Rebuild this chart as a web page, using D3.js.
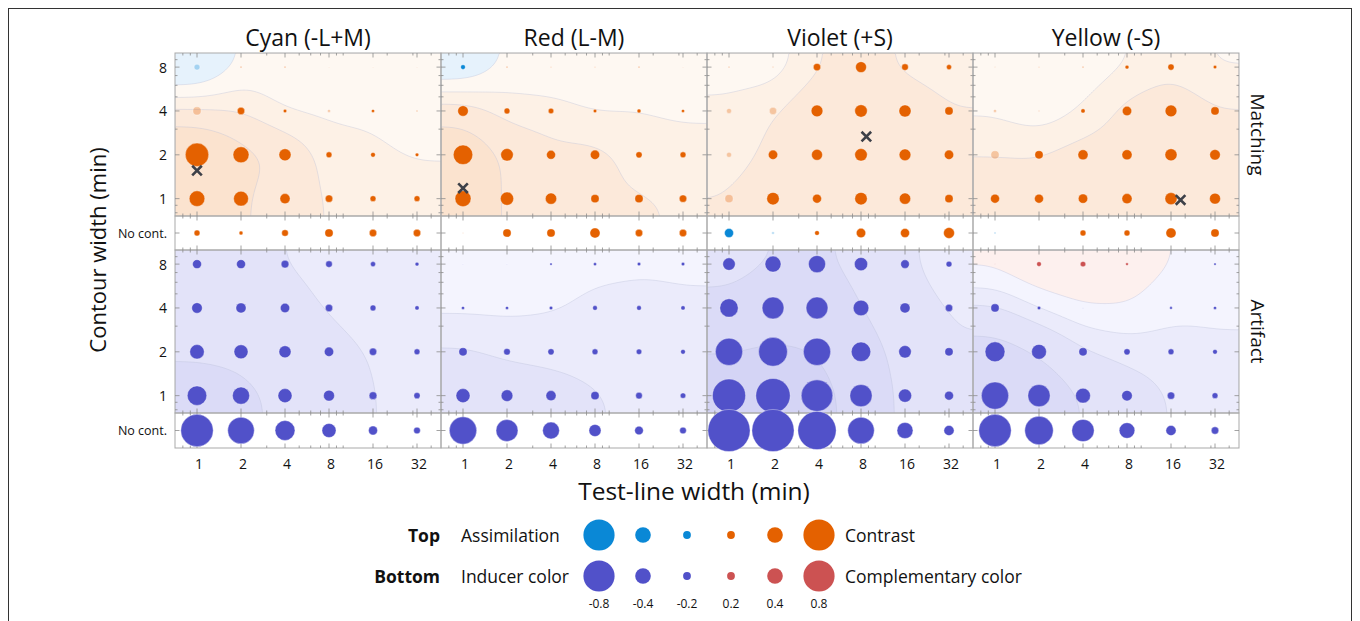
<!DOCTYPE html>
<html>
<head>
<meta charset="utf-8">
<script src="https://cdn.jsdelivr.net/npm/d3@7"></script>
<style>
  body { margin: 0; background: #fff; }
  svg { display: block; }
  text { font-family: "Open Sans", "Noto Sans", sans-serif; fill: #111; }
</style>
</head>
<body>
<svg id="chart" width="1360" height="621"></svg>
<script>
// ---- categories and tick labels ----
const inducers = ["Cyan (-L+M)", "Red (L-M)", "Violet (+S)", "Yellow (-S)"];
const testWidths = [1, 2, 4, 8, 16, 32];
const contourWidths = [8, 4, 2, 1];
const testTickLabels = ["1", "2", "4", "8", "16", "32"];
const contourTickLabels = ["8", "4", "2", "1"];
const noContourLabel = "No cont.";
const measures = ["Matching", "Artifact"];

// ---- Matching (top): rows = contour width 8,4,2,1; columns = test width 1..32 ----
const matchingCyan = [
  [-0.15, 0.03, 0.03, 0.01, 0.01, 0.01],
  [0.21, 0.19, 0.09, 0.08, 0.08, 0.05],
  [0.60, 0.41, 0.31, 0.15, 0.12, 0.09],
  [0.40, 0.38, 0.26, 0.19, 0.15, 0.15]
];
const matchingCyanNoCont = [0.15, 0.10, 0.17, 0.21, 0.19, 0.19];
const matchingRed = [
  [-0.12, 0.03, 0.02, 0.02, 0.03, 0.01],
  [0.27, 0.15, 0.14, 0.09, 0.10, 0.08],
  [0.50, 0.32, 0.23, 0.24, 0.16, 0.15],
  [0.41, 0.34, 0.29, 0.21, 0.21, 0.19]
];
const matchingRedNoCont = [0.03, 0.21, 0.21, 0.26, 0.19, 0.19];
const matchingViolet = [
  [0.05, 0.04, 0.19, 0.28, 0.17, 0.13],
  [0.13, 0.19, 0.30, 0.32, 0.31, 0.21],
  [0.13, 0.24, 0.28, 0.32, 0.30, 0.24],
  [0.21, 0.32, 0.23, 0.32, 0.29, 0.21]
];
const matchingVioletNoCont = [-0.23, -0.07, 0.12, 0.24, 0.23, 0.28];
const matchingYellow = [
  [0.03, 0.02, 0.03, 0.10, 0.16, 0.09],
  [0.08, 0.02, 0.11, 0.24, 0.30, 0.21],
  [0.21, 0.21, 0.26, 0.26, 0.31, 0.27],
  [0.23, 0.23, 0.24, 0.26, 0.31, 0.28]
];
const matchingYellowNoCont = [-0.05, 0.00, 0.15, 0.15, 0.26, 0.21];

// ---- Artifact (bottom) ----
const artifactCyan = [
  [-0.23, -0.23, -0.20, -0.17, -0.13, -0.10],
  [-0.27, -0.26, -0.24, -0.19, -0.15, -0.11],
  [-0.37, -0.36, -0.31, -0.24, -0.19, -0.15],
  [-0.50, -0.44, -0.36, -0.28, -0.20, -0.16]
];
const artifactCyanNoCont = [-0.83, -0.68, -0.51, -0.36, -0.23, -0.17];
const artifactRed = [
  [-0.01, -0.01, -0.06, -0.08, -0.09, -0.09],
  [-0.08, -0.08, -0.09, -0.12, -0.12, -0.11],
  [-0.21, -0.17, -0.16, -0.15, -0.14, -0.12],
  [-0.36, -0.30, -0.26, -0.21, -0.17, -0.14]
];
const artifactRedNoCont = [-0.70, -0.56, -0.43, -0.31, -0.22, -0.17];
const artifactViolet = [
  [-0.32, -0.41, -0.44, -0.34, -0.22, -0.15],
  [-0.47, -0.56, -0.56, -0.40, -0.26, -0.19],
  [-0.70, -0.74, -0.70, -0.50, -0.32, -0.21],
  [-0.85, -0.88, -0.81, -0.57, -0.34, -0.23]
];
const artifactVioletNoCont = [-1.08, -1.08, -0.98, -0.68, -0.41, -0.26];
const artifactYellow = [
  [0.03, 0.12, 0.14, 0.07, 0.00, -0.06],
  [-0.21, -0.09, -0.01, 0.00, -0.07, -0.08],
  [-0.51, -0.38, -0.21, -0.16, -0.15, -0.12],
  [-0.70, -0.57, -0.38, -0.27, -0.19, -0.15]
];
const artifactYellowNoCont = [-0.83, -0.73, -0.57, -0.40, -0.26, -0.19];

// non-significant points: [contour width (null = no contour), test width]
const matchingFadedCyan = [[8, 1], [4, 1], [4, 8], [4, 32]];
const matchingFadedRed = [[null, 1]];
const matchingFadedViolet = [[8, 1], [8, 2], [4, 1], [4, 2], [2, 1], [1, 1], [null, 2]];
const matchingFadedYellow = [[8, 1], [4, 1], [2, 1], [null, 1]];
const artifactFadedYellow = [[8, 1]];

// peak of the matching surface: [test width, contour width]
const matchingPeakCyan = [1.0, 1.56];
const matchingPeakRed = [1.0, 1.18];
const matchingPeakViolet = [8.7, 2.67];
const matchingPeakYellow = [18.6, 0.98];

// legend
const legendValues = [-0.8, -0.4, -0.2, 0.2, 0.4, 0.8];
const legendLabels = ["-0.8", "-0.4", "-0.2", "0.2", "0.4", "0.8"];

// contour bands of the interpolated surfaces
const matchingThresholds = [0, 0.1, 0.2, 0.35];
const matchingBandColors = ["#e6f2fc", "#fef8f2", "#fdf1e6", "#fce9da", "#fbe3cf"];
const artifactThresholds = [-0.7, -0.4, -0.2, -0.1, 0];
const artifactBandColors = ["#d4d4f5", "#dbdbf7", "#e3e3f9", "#ebebfb", "#f4f4fe", "#fdf0ee"];

// ---- assemble panels ----
const panels = [
  { m: matchingCyan, mn: matchingCyanNoCont, a: artifactCyan, an: artifactCyanNoCont, mf: matchingFadedCyan, af: [], peak: matchingPeakCyan },
  { m: matchingRed, mn: matchingRedNoCont, a: artifactRed, an: artifactRedNoCont, mf: matchingFadedRed, af: [], peak: matchingPeakRed },
  { m: matchingViolet, mn: matchingVioletNoCont, a: artifactViolet, an: artifactVioletNoCont, mf: matchingFadedViolet, af: [], peak: matchingPeakViolet },
  { m: matchingYellow, mn: matchingYellowNoCont, a: artifactYellow, an: artifactYellowNoCont, mf: matchingFadedYellow, af: artifactFadedYellow, peak: matchingPeakYellow }
];

const svg = d3.select("#chart");
const panelLeft = 175, panelW = 266;
const band = {
  matching: [53, 216],
  matchingNC: [216, 250],
  artifact: [250, 413],
  artifactNC: [413, 448]
};
const yDomain = [0.76, 10];
const xDomain = [0.707, 46.7];
const yMatch = d3.scaleLog().domain(yDomain).range([band.matching[1], band.matching[0]]);
const yArt = d3.scaleLog().domain(yDomain).range([band.artifact[1], band.artifact[0]]);
const ncMatchY = (band.matchingNC[0] + band.matchingNC[1]) / 2;
const ncArtY = (band.artifactNC[0] + band.artifactNC[1]) / 2;
const rScale = d3.scaleLinear().domain([0, 1]).range([0, 19.5]);

const colMatchPos = "#e46100", colMatchNeg = "#0a88d6";
const colArtNeg = "#5151c9", colArtPos = "#cc5252";

const minorLog = [0.7, 0.8, 0.9, 3, 5, 6, 7, 9, 10, 20, 30, 40];
const yMajor = contourWidths;
const yMinor = [0.8, 0.9, 3, 5, 6, 7, 9];

const defs = svg.append("defs");
const bg = svg.append("g");
const frames = svg.append("g");
const marks = svg.append("g");
const labels = svg.append("g");

// smooth surface + filled contours
function boxBlur(vals, nx, ny, r) {
  const tmp = new Float64Array(vals.length);
  for (let pass = 0; pass < 3; pass++) {
    for (let j = 0; j < ny; j++) {
      for (let i = 0; i < nx; i++) {
        let s = 0;
        for (let k = -r; k <= r; k++) {
          const ii = Math.max(0, Math.min(nx - 1, i + k));
          s += vals[j * nx + ii];
        }
        tmp[j * nx + i] = s / (2 * r + 1);
      }
    }
    for (let j = 0; j < ny; j++) {
      for (let i = 0; i < nx; i++) {
        let s = 0;
        for (let k = -r; k <= r; k++) {
          const jj = Math.max(0, Math.min(ny - 1, j + k));
          s += tmp[jj * nx + i];
        }
        vals[j * nx + i] = s / (2 * r + 1);
      }
    }
  }
}

function drawSurface(g, grid, xS, yS, top, bottom, x0, thresholds, colors, clipId) {
  const cell = 2;
  const h = bottom - top;
  const nx = Math.ceil(panelW / cell), ny = Math.ceil(h / cell);
  const nR = contourWidths.length, nC = testWidths.length;
  const vals = new Float64Array(nx * ny);
  for (let j = 0; j < ny; j++) {
    const cw = yS.invert(top + (j + 0.5) * cell);
    let fr = Math.log2(contourWidths[0] / cw);
    fr = Math.max(0, Math.min(nR - 1, fr));
    const r0 = Math.min(nR - 2, Math.floor(fr)), tr = fr - r0;
    for (let i = 0; i < nx; i++) {
      const tw = xS.invert(x0 + (i + 0.5) * cell);
      let fc = Math.log2(tw / testWidths[0]);
      fc = Math.max(0, Math.min(nC - 1, fc));
      const c0 = Math.min(nC - 2, Math.floor(fc)), tc = fc - c0;
      const a = grid[r0][c0] * (1 - tc) + grid[r0][c0 + 1] * tc;
      const b = grid[r0 + 1][c0] * (1 - tc) + grid[r0 + 1][c0 + 1] * tc;
      vals[j * nx + i] = a * (1 - tr) + b * tr;
    }
  }
  boxBlur(vals, nx, ny, 6);
  const cs = d3.contours().size([nx, ny]).thresholds(thresholds)(vals);
  const proj = d3.geoTransform({
    point(x, y) { this.stream.point(x0 + x * cell, top + y * cell); }
  });
  const path = d3.geoPath(proj);
  defs.append("clipPath").attr("id", clipId)
    .append("rect").attr("x", x0).attr("y", top).attr("width", panelW).attr("height", h);
  const sg = g.append("g").attr("clip-path", `url(#${clipId})`);
  sg.append("rect").attr("x", x0).attr("y", top).attr("width", panelW).attr("height", h)
    .attr("fill", colors[0]);
  sg.selectAll("path").data(cs).join("path")
    .attr("d", path)
    .attr("fill", (d, i) => colors[i + 1])
    .attr("stroke", "rgba(185,190,215,0.45)")
    .attr("stroke-width", 0.8);
}

function isFaded(list, cw, tw) {
  return list.some(p => p[0] === cw && p[1] === tw);
}

function drawTicksX(g, xS, y, dir) {
  testWidths.forEach(v => {
    g.append("line").attr("x1", xS(v)).attr("x2", xS(v)).attr("y1", y).attr("y2", y + dir * 4.5);
  });
  minorLog.forEach(v => {
    const x = xS(v);
    if (x < xS.range()[0] + 1 || x > xS.range()[1] - 1) return;
    g.append("line").attr("x1", x).attr("x2", x).attr("y1", y).attr("y2", y + dir * 2.5);
  });
}
function drawTicksY(g, yS, x, dir) {
  yMajor.forEach(v => {
    g.append("line").attr("x1", x).attr("x2", x + dir * 4.5).attr("y1", yS(v)).attr("y2", yS(v));
  });
  yMinor.forEach(v => {
    const y = yS(v);
    if (y > yS.range()[0] - 1 || y < yS.range()[1] + 1) return;
    g.append("line").attr("x1", x).attr("x2", x + dir * 2.5).attr("y1", y).attr("y2", y);
  });
}

panels.forEach((p, ci) => {
  const x0 = panelLeft + ci * panelW, x1 = x0 + panelW;
  const xS = d3.scaleLog().domain(xDomain).range([x0, x1]);

  drawSurface(bg, p.m, xS, yMatch, band.matching[0], band.matching[1], x0,
    matchingThresholds, matchingBandColors, "clipm" + ci);
  drawSurface(bg, p.a, xS, yArt, band.artifact[0], band.artifact[1], x0,
    artifactThresholds, artifactBandColors, "clipa" + ci);

  // frames
  const fg = frames.append("g").attr("stroke", "#a9a9a9").attr("fill", "none").attr("stroke-width", 1);
  Object.values(band).forEach(([t, b]) => {
    fg.append("rect").attr("x", x0).attr("y", t).attr("width", panelW).attr("height", b - t);
  });
  const tg = frames.append("g").attr("stroke", "#8c8c8c").attr("stroke-width", 0.8);
  Object.values(band).forEach(([t, b]) => {
    drawTicksX(tg, xS, t, 1);
    drawTicksX(tg, xS, b, -1);
  });
  drawTicksY(tg, yMatch, x0, 1);
  drawTicksY(tg, yMatch, x1, -1);
  drawTicksY(tg, yArt, x0, 1);
  drawTicksY(tg, yArt, x1, -1);
  [ncMatchY, ncArtY].forEach(y => {
    tg.append("line").attr("x1", x0).attr("x2", x0 + 4.5).attr("y1", y).attr("y2", y);
    tg.append("line").attr("x1", x1).attr("x2", x1 - 4.5).attr("y1", y).attr("y2", y);
  });

  // points
  const pts = [];
  contourWidths.forEach((cw, ri) => {
    testWidths.forEach((tw, k) => {
      pts.push({ x: xS(tw), y: yMatch(cw), v: p.m[ri][k], top: true, faded: isFaded(p.mf, cw, tw) });
      pts.push({ x: xS(tw), y: yArt(cw), v: p.a[ri][k], top: false, faded: isFaded(p.af, cw, tw) });
    });
  });
  testWidths.forEach((tw, k) => {
    pts.push({ x: xS(tw), y: ncMatchY, v: p.mn[k], top: true, faded: isFaded(p.mf, null, tw) });
    pts.push({ x: xS(tw), y: ncArtY, v: p.an[k], top: false, faded: isFaded(p.af, null, tw) });
  });
  marks.append("g").selectAll("circle").data(pts).join("circle")
    .attr("cx", d => d.x).attr("cy", d => d.y)
    .attr("r", d => rScale(Math.abs(d.v)))
    .attr("fill", d => d.top ? (d.v >= 0 ? colMatchPos : colMatchNeg) : (d.v < 0 ? colArtNeg : colArtPos))
    .attr("fill-opacity", d => d.faded ? 0.3 : 1)
    .attr("stroke", "#ffffff").attr("stroke-opacity", 0.6).attr("stroke-width", 0.6);

  // peak marker
  const px = xS(p.peak[0]), py = yMatch(p.peak[1]);
  marks.append("path")
    .attr("d", `M${px - 4.8},${py - 4.8}L${px + 4.8},${py + 4.8}M${px - 4.8},${py + 4.8}L${px + 4.8},${py - 4.8}`)
    .attr("stroke", "#3d4048").attr("stroke-width", 2.6).attr("fill", "none");

  // column title
  labels.append("text").attr("x", (x0 + x1) / 2).attr("y", 37)
    .attr("text-anchor", "middle").attr("dominant-baseline", "central")
    .style("font-size", "23px").text(inducers[ci]);

  // x tick labels
  testWidths.forEach((tw, k) => {
    labels.append("text").attr("x", xS(tw) + 2).attr("y", 463)
      .attr("text-anchor", "middle").attr("dominant-baseline", "central")
      .style("font-size", "14px").text(testTickLabels[k]);
  });
});

// y tick labels
[yMatch, yArt].forEach(yS => {
  contourWidths.forEach((cw, k) => {
    labels.append("text").attr("x", 167).attr("y", yS(cw))
      .attr("text-anchor", "end").attr("dominant-baseline", "central")
      .style("font-size", "14px").text(contourTickLabels[k]);
  });
});
[ncMatchY, ncArtY].forEach(y => {
  labels.append("text").attr("x", 167).attr("y", y)
    .attr("text-anchor", "end").attr("dominant-baseline", "central")
    .style("font-size", "12.5px").text(noContourLabel);
});

// axis titles
labels.append("text").attr("x", 694).attr("y", 490)
  .attr("text-anchor", "middle").attr("dominant-baseline", "central")
  .style("font-size", "24.5px").text("Test-line width (min)");
labels.append("text").attr("transform", "translate(97,250) rotate(-90)")
  .attr("text-anchor", "middle").attr("dominant-baseline", "central")
  .style("font-size", "22px").text("Contour width (min)");
labels.append("text").attr("transform", `translate(1258,${(band.matching[0] + band.matching[1]) / 2}) rotate(90)`)
  .attr("text-anchor", "middle").attr("dominant-baseline", "central")
  .style("font-size", "19px").text(measures[0]);
labels.append("text").attr("transform", `translate(1258,${(band.artifact[0] + band.artifact[1]) / 2}) rotate(90)`)
  .attr("text-anchor", "middle").attr("dominant-baseline", "central")
  .style("font-size", "19px").text(measures[1]);

// legend
const lx = d3.scalePoint().domain(legendValues).range([599, 819]);
const legTopY = 535, legBotY = 576;
const lg = svg.append("g");
lg.selectAll("circle.top").data(legendValues).join("circle").attr("class", "top")
  .attr("cx", d => lx(d)).attr("cy", legTopY).attr("r", d => rScale(Math.abs(d)))
  .attr("fill", d => d < 0 ? colMatchNeg : colMatchPos);
lg.selectAll("circle.bot").data(legendValues).join("circle").attr("class", "bot")
  .attr("cx", d => lx(d)).attr("cy", legBotY).attr("r", d => rScale(Math.abs(d)))
  .attr("fill", d => d < 0 ? colArtNeg : colArtPos);
lg.selectAll("text.val").data(legendValues).join("text").attr("class", "val")
  .attr("x", d => lx(d)).attr("y", 603)
  .attr("text-anchor", "middle").attr("dominant-baseline", "central")
  .style("font-size", "12px").text((d, i) => legendLabels[i]);
const legText = (x, y, t, anchor, bold) => lg.append("text").attr("x", x).attr("y", y)
  .attr("text-anchor", anchor).attr("dominant-baseline", "central")
  .style("font-size", "17.5px").style("font-weight", bold ? "700" : "400").text(t);
legText(440, legTopY, "Top", "end", true);
legText(461, legTopY, "Assimilation", "start", false);
legText(845, legTopY, "Contrast", "start", false);
legText(440, legBotY, "Bottom", "end", true);
legText(461, legBotY, "Inducer color", "start", false);
legText(845, legBotY, "Complementary color", "start", false);

// outer figure border
svg.append("rect").attr("x", 8.5).attr("y", 8.5).attr("width", 1343).attr("height", 640)
  .attr("fill", "none").attr("stroke", "#333").attr("stroke-width", 1);
</script>
</body>
</html>
